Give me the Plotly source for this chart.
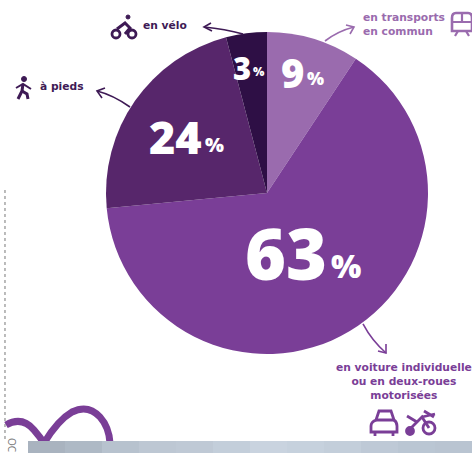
import plotly.graph_objects as go

W, H = 472, 453
categories = ["en transports en commun", "en voiture individuelle ou en deux-roues motorisées", "à pieds", "en vélo"]
printed_percent = ["9", "63", "24", "3"]
# angular share of each slice as drawn in the picture
slice_shares = [9.3, 64.2, 22.4, 4.1]
slice_colors = ["#9A6BAE", "#7A3E97", "#57266B", "#2E0F45"]

FONT = "Open Sans"
LABEL_FONT = "DejaVu Sans"
DARK = "#3E1A55"
LIGHT = "#9A6BAE"
MID = "#7A3E97"

def px(x): return x / W
def py(y): return 1 - y / H
def P(s):
    """SVG path given in pixel coordinates -> paper coordinates."""
    out, isx = [], True
    for tok in s.split():
        if tok.isalpha():
            out.append(tok)
        else:
            v = float(tok)
            out.append(f"{px(v) if isx else py(v):.5f}")
            isx = not isx
    return " ".join(out)

shapes, ann = [], []
def path(s, color, width=2, fill=None):
    shapes.append(dict(type="path", xref="paper", yref="paper", path=P(s),
                       line=dict(color=color, width=width),
                       fillcolor=fill if fill else "rgba(0,0,0,0)"))
def circle(cx, cy, r, color, width=2, fill=None):
    shapes.append(dict(type="circle", xref="paper", yref="paper",
                       x0=px(cx-r), x1=px(cx+r), y0=py(cy+r), y1=py(cy-r),
                       line=dict(color=color, width=width),
                       fillcolor=fill if fill else "rgba(0,0,0,0)"))
def rect(x0, y0, x1, y1, color):
    shapes.append(dict(type="rect", xref="paper", yref="paper", x0=px(x0), x1=px(x1),
                       y0=py(y1), y1=py(y0), line=dict(width=0), fillcolor=color))
def text(x, y, s, size, color, anchor="left", weight=800, family=FONT, align="center"):
    ann.append(dict(x=px(x), y=py(y), xref="paper", yref="paper", text=s, showarrow=False,
                    xanchor=anchor, yanchor="middle", align=align, borderpad=0,
                    font=dict(family=family, size=size, color=color, weight=weight)))

# percentage labels
num_pos = [(305, 72, 40, 325, 78, 18), (328, 253, 70, 362, 265, 32),
           (203, 136, 45, 225, 144, 20), (252, 68, 31, 266, 71, 12)]
for p, (x, y, s, x2, y2, s2) in zip(printed_percent, num_pos):
    text(x, y, p, s, "white", "right", 900)
    text(x2, y2, "%", s2, "white", "right", 800)

# category labels
text(142, 26, "en vélo", 10.7, DARK, family=LABEL_FONT, weight=700)
text(39, 87, "à pieds", 10.7, DARK, family=LABEL_FONT, weight=700)
text(362, 24.5, "en transports<br>en commun", 10.7, LIGHT, family=LABEL_FONT, weight=700, align="left")
text(404, 381.5, "en voiture individuelle<br>ou en deux-roues<br>motorisées", 10.7, MID, "center",
     family=LABEL_FONT, weight=700)

# arrows
path("M 243 34 Q 225 29 204 27", DARK, 1.6)
path("M 211 23 L 204 27 L 212 31", DARK, 1.6)
path("M 130 107 Q 113 95 97 91", DARK, 1.6)
path("M 105 88 L 97 91 L 102 98", DARK, 1.6)
path("M 325 41 Q 338 31 354 27", LIGHT, 1.6)
path("M 346 25 L 354 27 L 350 34", LIGHT, 1.6)
path("M 363 324 Q 372 341 386 353", MID, 1.6)
path("M 386 344 L 386 353 L 378 351", MID, 1.6)

# bike
circle(116, 34, 4, DARK, 2.8); circle(132, 34, 4, DARK, 2.8)
circle(128, 17, 2, DARK, 1, DARK)
path("M 117 29 L 125 23 L 130 28 L 125 34", DARK, 3)
# pedestrian
circle(24, 79, 2.5, DARK, 1, DARK)
path("M 23 84 L 22 91 L 18 99", DARK, 3)
path("M 22 91 L 27 94 L 28 99", DARK, 3)
path("M 16 88 L 23 84 L 31 89", DARK, 2)
# train
path("M 456 13 L 468 13 Q 472 13 472 18 L 472 31 L 452 31 L 452 18 Q 452 13 456 13 Z", LIGHT, 2.6)
path("M 452 22 L 472 22 M 462 14 L 462 22", LIGHT, 2.2)
path("M 455 36 L 458 31 M 469 36 L 466 31", LIGHT, 2.2)
# car
path("M 376 420 L 379 411 L 391 411 L 394 420 Q 397 422 397 426 L 397 432 L 371 432 L 371 426 Q 371 422 376 420 Z", MID, 2.8)
path("M 375 420 L 394 420 M 375 436 L 375 432 M 393 436 L 393 432", MID, 2.8)
# motorbike
circle(429, 428, 6, MID, 2.8)
circle(410, 431, 3.5, MID, 2.8, MID)
path("M 410 429 L 422 417 L 429 428 M 407 416 L 417 422 M 424 411 L 434 417 M 422 417 L 435 414", MID, 2.8)

# decorative curve, dashed edge and the image band at the bottom
path("M 6 425 Q 22 416 34 430 Q 40 437 44 443 Q 58 420 72 412 Q 88 404 100 417 Q 109 427 110 443", MID, 7)
path("M 5 190 L 5 440", "#777777", 1)
shapes[-1]["line"]["dash"] = "3px,3px"
band = ["#A9B3BF", "#AEB9C5", "#B7C2CE", "#BDC7D3", "#BFC9D5", "#C3CEDA", "#C9D3DF", "#C6D1DD",
        "#C3CEDA", "#BEC9D6", "#BAC6D3", "#B9C4D1"]
step = (W - 28) / len(band)
for i, c in enumerate(band):
    rect(28 + i * step, 441, 28 + (i + 1) * step + 1, 453, c)
text(12, 445, "OC", 10, "#777777", "center", 400)
ann[-1]["textangle"] = 90

fig = go.Figure(go.Pie(
    labels=categories, values=slice_shares, sort=False, direction="clockwise", rotation=0,
    marker=dict(colors=slice_colors, line=dict(width=0)),
    textinfo="none", hoverinfo="label", showlegend=False,
    domain=dict(x=[px(106), px(428)], y=[py(354), py(32)]),
))
fig.update_layout(width=W, height=H, margin=dict(l=0, r=0, t=0, b=0),
                  paper_bgcolor="white", plot_bgcolor="white",
                  shapes=shapes, annotations=ann)
fig.write_html("out.html", config=dict(displayModeBar=False),
               post_script="document.body.style.margin='0';document.body.style.overflow='hidden';")
